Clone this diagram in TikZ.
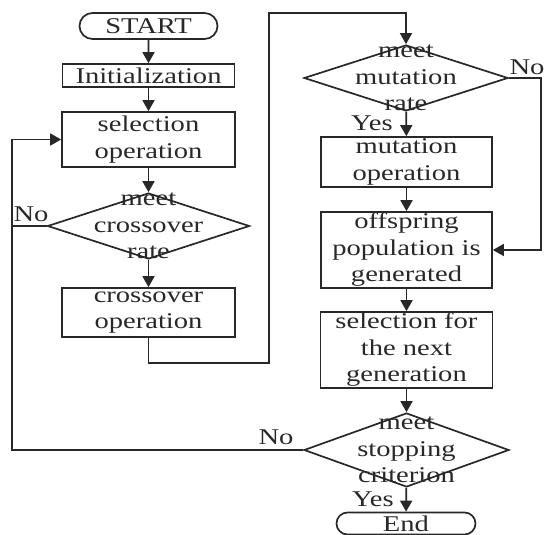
\documentclass[tikz,border=0pt]{standalone}
\usepackage{fontspec}
\setmainfont{Liberation Serif}[FakeStretch=1.27]
\usetikzlibrary{arrows.meta,shapes.misc,shapes.geometric}
\definecolor{ink}{RGB}{40,40,40}
\begin{document}
\begin{tikzpicture}[x=1pt,y=-1pt,
  every node/.style={text=ink,font=\fontsize{22.5}{26.5}\selectfont,inner sep=0pt,align=center},
  box/.style={draw=ink,line width=1.7pt,rectangle},
  term/.style={draw=ink,line width=1.7pt,rounded rectangle},
  dia/.style={draw=ink,line width=1.7pt,diamond},
  ln/.style={draw=ink,line width=1.7pt},
  arr/.style={ln,-{Triangle[length=11pt,width=12pt]}}]
\useasboundingbox (0,0) rectangle (544,535);
% left column
\node[term,minimum width=138pt,minimum height=26pt] (start) at (148.5,26) {START};
\node[box,minimum width=172pt,minimum height=23pt] (init) at (148.5,75.5) {Initialization};
\node[box,minimum width=173pt,minimum height=55pt] (sel) at (148.5,139.5) {selection\\operation};
\node[dia,minimum width=202pt,minimum height=66pt] (d1) at (148.5,226) {};
\node (d1t) at (148.5,226) {meet\\crossover\\rate};
\node[box,minimum width=173pt,minimum height=49pt] (cross) at (148.5,312.5) {crossover\\operation};
% right column
\node[dia,minimum width=204pt,minimum height=66pt] (d2) at (406,78) {};
\node (d2t) at (406,78) {meet\\mutation\\rate};
\node[box,minimum width=171pt,minimum height=50pt] (mut) at (406.5,162) {mutation\\operation};
\node[box,minimum width=171pt,minimum height=76pt] (off) at (406.5,250) {offspring\\population is\\generated};
\node[box,minimum width=172pt,minimum height=76pt] (nxt) at (406.5,350) {selection for\\the next\\generation};
\node[dia,minimum width=205pt,minimum height=74pt] (d3) at (406.5,450) {};
\node (d3t) at (406.5,450) {meet\\stopping\\criterion};
\node[term,minimum width=139pt,minimum height=22pt] (end) at (406,523.5) {End};
% helper coordinates
\coordinate (c1) at (269,363);
\coordinate (c2) at (269,13);
\coordinate (c3) at (541,0);
\coordinate (c4) at (12,0);
% connectors
\draw[arr] (start) -- (init);
\draw[arr] (init) -- (sel);
\draw[arr] (sel) -- (d1);
\draw[arr] (d1) -- (cross);
\draw[arr] (cross.south) |- (c1) -- (c2) -| (d2.north);
\draw[arr] (d2) -- (mut);
\draw[arr] (d2.east) -- (d2.east -| c3) |- (off.east);
\draw[arr] (mut) -- (off);
\draw[arr] (off) -- (nxt);
\draw[arr] (nxt) -- (d3);
\draw[arr] (d3) -- (end);
\draw[ln] (d1.west) -- (d1.west -| c4);
\draw[arr] (d3.west) -- (d3.west -| c4) |- (sel.west);
% labels
\node (no1) at (31,214) {No};
\node (no2) at (527,67) {No};
\node (yes1) at (372,123) {Yes};
\node (no3) at (276,437) {No};
\node (yes2) at (373,499) {Yes};
\end{tikzpicture}
\end{document}
